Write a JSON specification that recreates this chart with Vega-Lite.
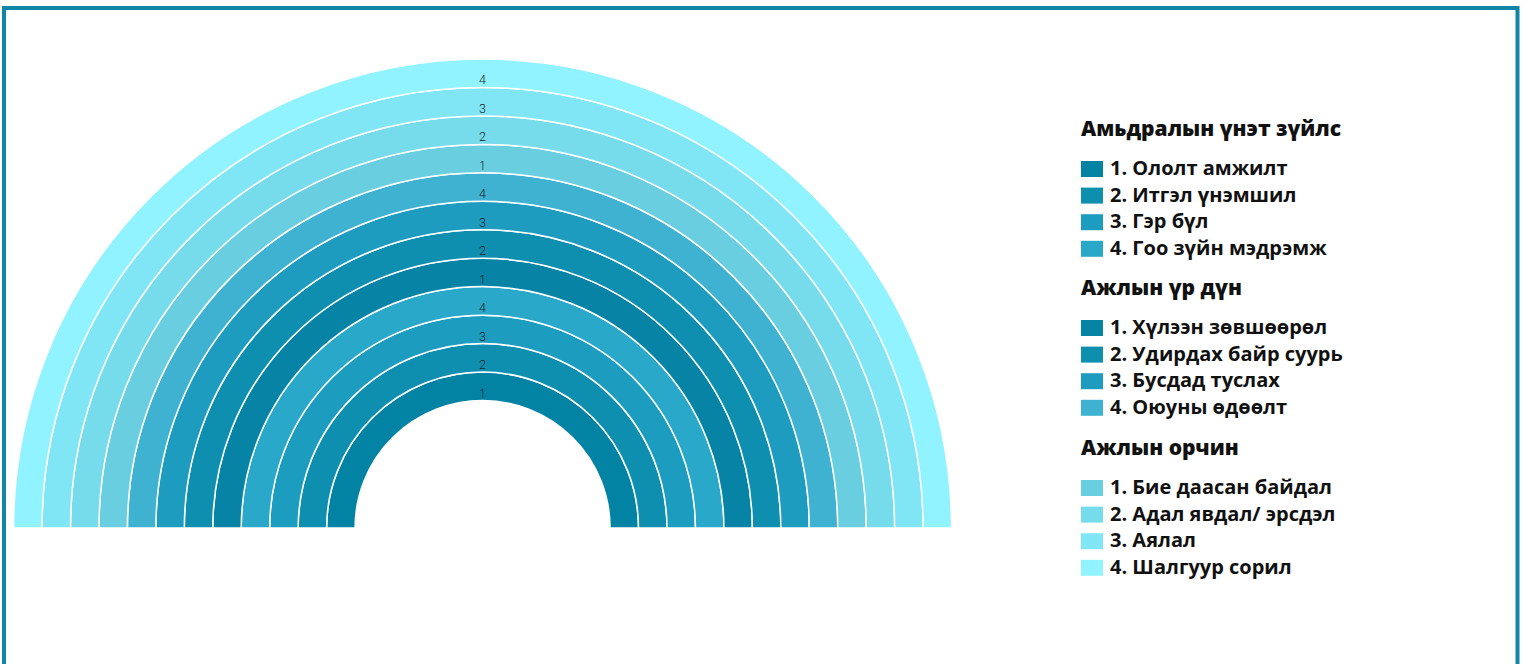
{
  "$schema": "https://vega.github.io/schema/vega-lite/v6.json",
  "autosize": {"type": "fit", "contains": "padding"},
  "width": 1528,
  "height": 664,
  "padding": {"left": 4, "top": 8, "right": 10.5, "bottom": -2},
  "background": "white",
  "view": {"stroke": "#1186a6", "strokeWidth": 4},
  "config": {
    "view": {"stroke": "#1186a6", "strokeWidth": 4},
    "legend": {
      "orient": "none",
      "padding": 0,
      "titleFont": "Open Sans",
      "titleFontSize": 21,
      "titleFontWeight": 800,
      "titleColor": "#111111",
      "titlePadding": 18,
      "titleLimit": 500,
      "labelFont": "Open Sans",
      "labelFontSize": 20,
      "labelFontWeight": "bold",
      "labelColor": "#111111",
      "labelLimit": 500,
      "labelOffset": 7,
      "symbolType": "M-1,-0.727H1V0.727H-1Z",
      "symbolSize": 484,
      "symbolStrokeWidth": 0,
      "symbolOpacity": 1,
      "rowPadding": 5.6
    }
  },
  "data": {
    "values": [
      {"group": "Амьдралын үнэт зүйлс", "item": "1. Ололт амжилт", "num": "1", "r0": 0, "r1": 1},
      {"group": "Амьдралын үнэт зүйлс", "item": "2. Итгэл үнэмшил", "num": "2", "r0": 1, "r1": 2},
      {"group": "Амьдралын үнэт зүйлс", "item": "3. Гэр бүл", "num": "3", "r0": 2, "r1": 3},
      {"group": "Амьдралын үнэт зүйлс", "item": "4. Гоо зүйн мэдрэмж", "num": "4", "r0": 3, "r1": 4},
      {"group": "Ажлын үр дүн", "item": "1. Хүлээн зөвшөөрөл", "num": "1", "r0": 4, "r1": 5},
      {"group": "Ажлын үр дүн", "item": "2. Удирдах байр суурь", "num": "2", "r0": 5, "r1": 6},
      {"group": "Ажлын үр дүн", "item": "3. Бусдад туслах", "num": "3", "r0": 6, "r1": 7},
      {"group": "Ажлын үр дүн", "item": "4. Оюуны  өдөөлт", "num": "4", "r0": 7, "r1": 8},
      {"group": "Ажлын орчин", "item": "1. Бие даасан байдал", "num": "1", "r0": 8, "r1": 9},
      {"group": "Ажлын орчин", "item": "2. Адал явдал/ эрсдэл", "num": "2", "r0": 9, "r1": 10},
      {"group": "Ажлын орчин", "item": "3. Аялал", "num": "3", "r0": 10, "r1": 11},
      {"group": "Ажлын орчин", "item": "4. Шалгуур сорил", "num": "4", "r0": 11, "r1": 12}
    ]
  },
  "layer": [
    {
      "transform": [{"filter": "datum.group === 'Амьдралын үнэт зүйлс'"}],
      "mark": {"type": "arc", "theta": -1.5708, "theta2": 1.5708, "x": {"expr": "width * 0.3162"}, "y": {"expr": "height * 0.7903"}, "stroke": "white", "strokeWidth": 1.5},
      "encoding": {
        "radius": {"field": "r0", "type": "quantitative", "scale": {"type": "linear", "domain": [0, 12], "range": [127.5, 469]}},
        "radius2": {"field": "r1"},
        "color": {
          "field": "item", "type": "nominal",
          "scale": {"domain": ["1. Ололт амжилт", "2. Итгэл үнэмшил", "3. Гэр бүл", "4. Гоо зүйн мэдрэмж"], "range": ["#0383a4", "#0e8fb0", "#1c9dbf", "#29a8ca"]},
          "legend": {"title": "Амьдралын үнэт зүйлс", "legendX": 1077, "legendY": 111}
        }
      }
    },
    {
      "transform": [{"filter": "datum.group === 'Ажлын үр дүн'"}],
      "mark": {"type": "arc", "theta": -1.5708, "theta2": 1.5708, "x": {"expr": "width * 0.3162"}, "y": {"expr": "height * 0.7903"}, "stroke": "white", "strokeWidth": 1.5},
      "encoding": {
        "radius": {"field": "r0", "type": "quantitative"},
        "radius2": {"field": "r1"},
        "color": {
          "field": "item", "type": "nominal",
          "scale": {"domain": ["1. Хүлээн зөвшөөрөл", "2. Удирдах байр суурь", "3. Бусдад туслах", "4. Оюуны  өдөөлт"], "range": ["#0784a5", "#0f8fb0", "#1e9cc0", "#3eb2d0"]},
          "legend": {"title": "Ажлын үр дүн", "legendX": 1077, "legendY": 270}
        }
      }
    },
    {
      "transform": [{"filter": "datum.group === 'Ажлын орчин'"}],
      "mark": {"type": "arc", "theta": -1.5708, "theta2": 1.5708, "x": {"expr": "width * 0.3162"}, "y": {"expr": "height * 0.7903"}, "stroke": "white", "strokeWidth": 1.5},
      "encoding": {
        "radius": {"field": "r0", "type": "quantitative"},
        "radius2": {"field": "r1"},
        "color": {
          "field": "item", "type": "nominal",
          "scale": {"domain": ["1. Бие даасан байдал", "2. Адал явдал/ эрсдэл", "3. Аялал", "4. Шалгуур сорил"], "range": ["#69cedf", "#76dbeb", "#80e6f5", "#90f3ff"]},
          "legend": {"title": "Ажлын орчин", "legendX": 1077, "legendY": 430}
        }
      }
    },
    {
      "mark": {"type": "text", "theta": 0, "x": {"expr": "width * 0.3162"}, "y": {"expr": "height * 0.7903"}, "baseline": "bottom", "font": "Roboto", "fontWeight": 300, "fontSize": 12.5, "color": "#222222"},
      "encoding": {
        "radius": {"field": "r0", "type": "quantitative"},
        "text": {"field": "num"}
      }
    }
  ],
  "resolve": {"scale": {"color": "independent"}, "legend": {"color": "independent"}}
}
